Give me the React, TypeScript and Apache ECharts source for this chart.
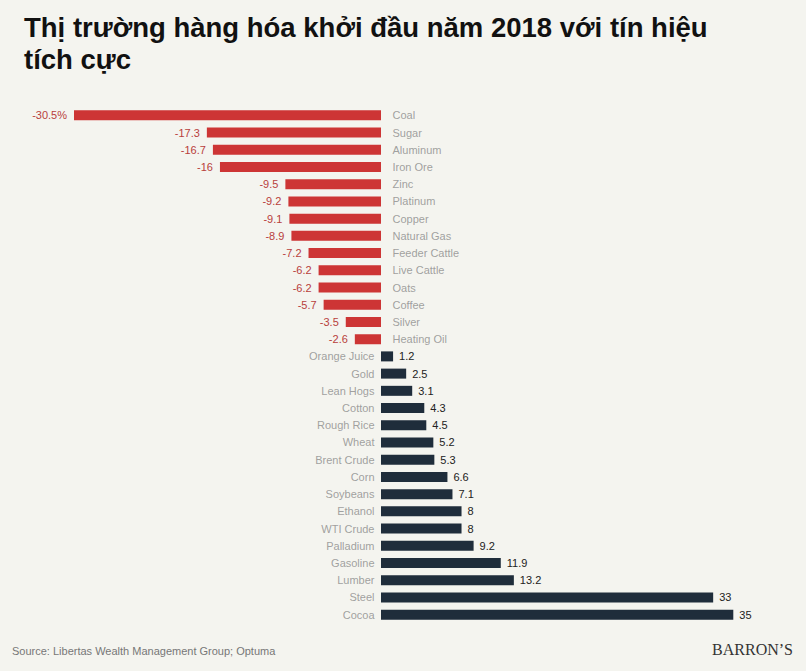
import React, { useEffect, useRef } from "react";
import * as echarts from "echarts";

const categories = [
  "Coal", "Sugar", "Aluminum", "Iron Ore", "Zinc", "Platinum", "Copper", "Natural Gas",
  "Feeder Cattle", "Live Cattle", "Oats", "Coffee", "Silver", "Heating Oil", "Orange Juice",
  "Gold", "Lean Hogs", "Cotton", "Rough Rice", "Wheat", "Brent Crude", "Corn", "Soybeans",
  "Ethanol", "WTI Crude", "Palladium", "Gasoline", "Lumber", "Steel", "Cocoa",
];
const values = [
  -30.5, -17.3, -16.7, -16, -9.5, -9.2, -9.1, -8.9, -7.2, -6.2, -6.2, -5.7, -3.5, -2.6, 1.2,
  2.5, 3.1, 4.3, 4.5, 5.2, 5.3, 6.6, 7.1, 8, 8, 9.2, 11.9, 13.2, 33, 35,
];
const titleText = "Thị trường hàng hóa khởi đầu năm 2018 với tín hiệu\ntích cực";
const sourceText = "Source: Libertas Wealth Management Group; Optuma";
const brandText = "BARRON’S";

const RED = "#cd3535";
const NAVY = "#1f2d3b";
const BG = "#f4f4ef";
const FONT = "'Liberation Sans', Arial, sans-serif";

export default function App() {
  const ref = useRef<HTMLDivElement>(null);
  useEffect(() => {
    if (!ref.current) return;
    const chart = echarts.init(ref.current, null, { renderer: "svg" });
    const barData = values.map((v, i) => ({
      value: v,
      itemStyle: { color: v < 0 ? RED : NAVY },
      label: {
        show: true,
        position: v < 0 ? "left" : "right",
        distance: v < 0 ? 7 : 6,
        color: v < 0 ? "#b8403c" : "#222222",
        fontSize: 11,
        fontFamily: FONT,
        formatter: i === 0 ? `${v}%` : `${v}`,
      },
    }));
    const nameData = values.map((v, i) => ({
      value: [0, categories[i]],
      label: {
        show: true,
        position: v < 0 ? "right" : "left",
        distance: v < 0 ? 11 : 6,
        color: "#8a8a8a",
        fontSize: 11,
        fontFamily: FONT,
        formatter: categories[i],
      },
    }));
    chart.setOption({
      animation: false,
      backgroundColor: BG,
      title: {
        text: titleText,
        left: 19,
        top: 7,
        textStyle: {
          fontSize: 27.5,
          fontWeight: "bold",
          color: "#111111",
          fontFamily: FONT,
          lineHeight: 31.6,
        },
      },
      grid: { left: 74, right: 72.7, top: 106.7, bottom: 47.7, containLabel: false },
      xAxis: {
        type: "value",
        min: -30.5,
        max: 35,
        show: false,
      },
      yAxis: {
        type: "category",
        data: categories,
        inverse: true,
        show: false,
      },
      series: [
        {
          type: "bar",
          data: barData,
          barWidth: 10,
        },
        {
          type: "scatter",
          data: nameData,
          symbolSize: 1,
          itemStyle: { color: "rgba(0,0,0,0)" },
          silent: true,
          z: 5,
        },
      ],
      graphic: [
        {
          type: "text",
          left: 12,
          top: 645,
          style: { text: sourceText, fill: "#777777", fontSize: 11, fontFamily: FONT },
        },
        {
          type: "text",
          right: 13,
          top: 641,
          style: {
            text: brandText,
            fill: "#333333",
            fontSize: 16,
            fontFamily: "'Liberation Serif', 'Times New Roman', serif",
          },
        },
      ],
    });
    return () => chart.dispose();
  }, []);
  return (
    <div
      ref={ref}
      style={{ position: "fixed", left: 0, top: 0, width: 806, height: 671, background: BG }}
    />
  );
}
